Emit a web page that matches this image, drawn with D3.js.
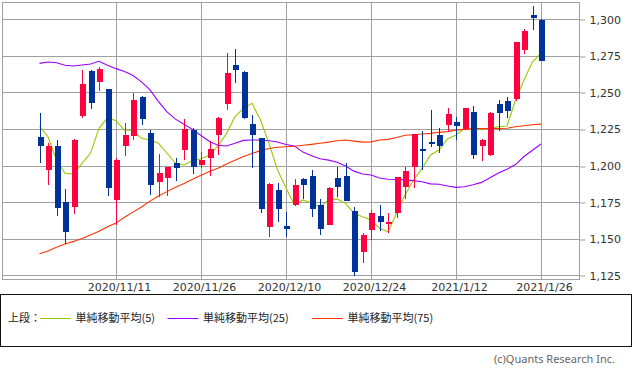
<!DOCTYPE html>
<html>
<head>
<meta charset="utf-8">
<script src="https://cdn.jsdelivr.net/npm/d3@7"></script>
<style>
  body { margin: 0; background: #fff; }
  svg { display: block; }
</style>
</head>
<body>
<svg id="chart" width="633" height="372"></svg>
<script>
// daily candles, 2020/10/28 - 2021/1/26
const dates = [
  "2020/10/28","2020/10/29","2020/10/30","2020/11/2","2020/11/4","2020/11/5","2020/11/6","2020/11/9","2020/11/10","2020/11/11",
  "2020/11/12","2020/11/13","2020/11/16","2020/11/17","2020/11/18","2020/11/19","2020/11/20","2020/11/24","2020/11/25","2020/11/26",
  "2020/11/27","2020/11/30","2020/12/1","2020/12/2","2020/12/3","2020/12/4","2020/12/7","2020/12/8","2020/12/9","2020/12/10",
  "2020/12/11","2020/12/14","2020/12/15","2020/12/16","2020/12/17","2020/12/18","2020/12/21","2020/12/22","2020/12/23","2020/12/24",
  "2020/12/25","2020/12/28","2020/12/29","2020/12/30","2021/1/4","2021/1/5","2021/1/6","2021/1/7","2021/1/8","2021/1/12",
  "2021/1/13","2021/1/14","2021/1/15","2021/1/18","2021/1/19","2021/1/20","2021/1/21","2021/1/22","2021/1/25","2021/1/26"
];
const openPrice = [
  1220, 1197, 1213.6, 1175.3, 1172, 1234, 1264.6, 1257.3, 1252.3, 1176.7,
  1213.6, 1220.4, 1247.3, 1222.2, 1189.4, 1191.7, 1202.2, 1210.8, 1224.9, 1201,
  1205.6, 1221.5, 1242.5, 1268.7, 1264.1, 1228.4, 1218.8, 1158.2, 1183.9, 1159.3,
  1173.7, 1191.1, 1193.1, 1173.3, 1159.9, 1191.5, 1193.1, 1169.2, 1141.4, 1156.2,
  1165.8, 1160.5, 1167.6, 1185.8, 1199.5, 1211.6, 1216.6, 1221.1, 1228, 1230,
  1225.5, 1236.9, 1213.4, 1207.3, 1242.6, 1244.2, 1246, 1279, 1303, 1299.5
];
const highPrice = [
  1236, 1216, 1217.7, 1184, 1218.6, 1265.5, 1265.5, 1267.8, 1252.3, 1205.5,
  1229.5, 1250, 1247.5, 1224.5, 1208.5, 1199, 1205.8, 1232.2, 1226, 1209.5,
  1217, 1233.6, 1276.9, 1279.6, 1264.8, 1234.5, 1219, 1188.6, 1188.5, 1168.5,
  1190.8, 1191.5, 1197.2, 1177.2, 1185.4, 1199, 1202.2, 1172.2, 1153.9, 1169.9,
  1173.3, 1167.6, 1192.5, 1199.5, 1222, 1224.1, 1238.2, 1225.7, 1239.4, 1233.2,
  1239.5, 1241.2, 1218.5, 1237.1, 1244.9, 1247.2, 1284.6, 1293.8, 1309.6, 1300.5
];
const lowPrice = [
  1202, 1187, 1165.7, 1147, 1167.5, 1233, 1238.6, 1251, 1179.4, 1160,
  1206.7, 1218, 1227.7, 1180.5, 1179, 1179.4, 1189.6, 1204, 1194.2, 1198.7,
  1193, 1207.2, 1238.2, 1256.8, 1231.8, 1198.5, 1167.8, 1151.4, 1161.6, 1151.6,
  1172.6, 1177.2, 1165.3, 1152.8, 1159.4, 1179, 1176, 1125, 1133.9, 1149.4,
  1155.8, 1153.9, 1164.2, 1177.8, 1184.7, 1197.2, 1212.7, 1208.6, 1223.4, 1217.7,
  1224.5, 1204.8, 1203.2, 1207, 1223.7, 1232.8, 1244.2, 1276.8, 1292.7, 1272
];
const closePrice = [
  1214, 1213.5, 1171, 1155.2, 1217.7, 1255.7, 1243.2, 1266, 1185, 1204.4,
  1221.3, 1245.4, 1231.8, 1186.7, 1194.9, 1199, 1198.5, 1225.4, 1199.2, 1204.4,
  1211.3, 1232.5, 1263.2, 1265.5, 1232.5, 1221.5, 1170.3, 1187.4, 1170.3, 1156.9,
  1186.7, 1187, 1170.8, 1157.1, 1184.9, 1185.4, 1176.3, 1127.7, 1152.8, 1167.6,
  1162, 1161.5, 1192.2, 1196.8, 1221.8, 1210.2, 1214.7, 1213.8, 1235.5, 1227.3,
  1239.3, 1207.3, 1218, 1236.2, 1236.2, 1237.4, 1284.5, 1292.3, 1301.1, 1272
];
// moving averages
const ma5 = [
  1227.3, 1220, 1204.1, 1195, 1194.5, 1201.8, 1208.7, 1225.7, 1233, 1231,
  1224.3, 1224.1, 1218.9, 1217.8, 1215.5, 1208.7, 1201.8, 1200.7, 1203.6, 1205,
  1207.5, 1213.7, 1222.3, 1233.7, 1239.4, 1242.8, 1231.4, 1215.5, 1197.3, 1185,
  1173.4, 1176.8, 1174.5, 1172.2, 1176.8, 1177.5, 1174.5, 1167.7, 1165.4, 1163.1,
  1157.4, 1155.1, 1167.7, 1180.2, 1190.4, 1198.4, 1207.5, 1210.9, 1218.5, 1221.2,
  1225.7, 1224.6, 1225.1, 1225.7, 1226.8, 1227.3, 1245.1, 1258.7, 1271.2, 1277
];
const ma25 = [
  1270.1, 1271, 1270.5, 1268.8, 1268.3, 1269, 1269.7, 1271.5, 1268.8, 1266.5,
  1264.5, 1261.8, 1257.5, 1252, 1244, 1237, 1232, 1228.5, 1225, 1220.8,
  1216.8, 1214.2, 1213.7, 1215.5, 1217.5, 1217.8, 1217.8, 1217.3, 1216.4, 1214.7,
  1213.7, 1209.5, 1207, 1205, 1204, 1202.5, 1200, 1196.5, 1194.5, 1193.8,
  1191.8, 1191, 1190.8, 1190.5, 1190, 1189.2, 1187.8, 1187.5, 1186.3, 1185.4,
  1185.8, 1187.2, 1188.8, 1192, 1195.2, 1197.8, 1201, 1206.5, 1210.8, 1215
];
const ma75 = [
  1140, 1142, 1144.5, 1146.7, 1148.5, 1150.5, 1152.9, 1155.5, 1158.5, 1161,
  1165, 1168.5, 1172, 1176, 1179.5, 1182.5, 1185.5, 1188, 1191, 1193.7,
  1196.3, 1198.5, 1201.3, 1204, 1206.5, 1208.5, 1210.5, 1212, 1212.8, 1213.2,
  1213.5, 1214.2, 1214.8, 1215.5, 1216.3, 1217.2, 1217.8, 1217, 1216.3, 1216.5,
  1217.8, 1218.2, 1219.5, 1221, 1221.3, 1221.9, 1222.3, 1223, 1223.5, 1224.5,
  1225, 1225.5, 1225.5, 1225.5, 1225.6, 1225.8, 1226.8, 1227.5, 1228.2, 1228.6
];
const yTicks = [1125, 1150, 1175, 1200, 1225, 1250, 1275, 1300];
const xTicks = ["2020/11/11", "2020/11/26", "2020/12/10", "2020/12/24", "2021/1/12", "2021/1/26"];
const legendNames = ["単純移動平均(5)", "単純移動平均(25)", "単純移動平均(75)"];
const legendColors = ["#99cc00", "#9900ff", "#ff3300"];

const svg = d3.select("#chart");
const plotLeft = 2.5, plotRight = 579.5, plotTop = 2.5, plotBottom = 279.5;

const x = d3.scalePoint().domain(dates).range([39.5, 541]);
const y = d3.scaleLinear().domain([1125, 1300]).range([275.8, 19.6]);
const px = d => Math.round(x(d));
const py = v => Math.floor(y(v)) + 0.5;

const candles = dates.map((d, i) => ({
    date: d, o: openPrice[i], h: highPrice[i], l: lowPrice[i], c: closePrice[i]
}));

// grid
const grid = svg.append("g").attr("stroke", "#a0a0a0").attr("shape-rendering", "crispEdges");
grid.selectAll(".h").data(yTicks).join("line")
    .attr("x1", plotLeft).attr("x2", plotRight)
    .attr("y1", py).attr("y2", py);
grid.selectAll(".v").data(xTicks).join("line")
    .attr("x1", d => px(d) + 0.5).attr("x2", d => px(d) + 0.5)
    .attr("y1", plotTop).attr("y2", plotBottom);
svg.append("rect")
    .attr("x", plotLeft).attr("y", plotTop)
    .attr("width", plotRight - plotLeft).attr("height", plotBottom - plotTop)
    .attr("fill", "none").attr("stroke", "#a0a0a0")
    .attr("shape-rendering", "crispEdges");

// moving average lines
[ma5, ma25, ma75].forEach((ma, k) => {
    const line = d3.line().x((v, i) => x(dates[i])).y(v => y(v));
    svg.append("path")
        .attr("d", line(ma))
        .attr("fill", "none")
        .attr("stroke", legendColors[k])
        .attr("stroke-width", 1.1);
});

// candlesticks
const upColor = "#ff0040", downColor = "#003399";
const cg = svg.append("g").attr("shape-rendering", "crispEdges");
cg.selectAll("line").data(candles).join("line")
    .attr("x1", d => px(d.date) + 0.5).attr("x2", d => px(d.date) + 0.5)
    .attr("y1", d => y(d.h)).attr("y2", d => y(d.l))
    .attr("stroke", d => d.c >= d.o ? upColor : downColor);
cg.selectAll("rect").data(candles).join("rect")
    .attr("x", d => px(d.date) - 2.5)
    .attr("width", 6)
    .attr("y", d => y(Math.max(d.o, d.c)))
    .attr("height", d => Math.max(1.5, Math.abs(y(d.o) - y(d.c))))
    .attr("fill", d => d.c >= d.o ? upColor : downColor);

// y axis on the right
const yAxis = svg.append("g")
    .attr("transform", `translate(${plotRight},0)`)
    .call(d3.axisRight(y).tickValues(yTicks).tickSize(6).tickPadding(4).tickFormat(d3.format(",")));
yAxis.select(".domain").remove();
yAxis.selectAll(".tick line").attr("stroke", "#a0a0a0").attr("transform", d => `translate(0,${py(d) - y(d)})`);
yAxis.selectAll(".tick text")
    .attr("fill", "#333")
    .style("font", "11px 'DejaVu Sans', sans-serif");

// date labels
const xAxis = svg.append("g")
    .attr("transform", `translate(0,${plotBottom})`)
    .call(d3.axisBottom(x).tickValues(xTicks).tickSize(0).tickPadding(4));
xAxis.select(".domain").remove();
xAxis.selectAll(".tick text")
    .attr("dx", 3)
    .attr("fill", "#333")
    .style("font", "11px 'DejaVu Sans', sans-serif");

// legend box
const lg = svg.append("g");
lg.append("rect")
    .attr("x", 0.5).attr("y", 294.5).attr("width", 631).attr("height", 52)
    .attr("fill", "#fff").attr("stroke", "#111");
const ly = 318.5;
lg.append("text")
    .attr("x", 8).attr("y", ly).attr("dy", "0.35em")
    .attr("fill", "#222")
    .style("font", "11px 'Noto Sans CJK JP', sans-serif")
    .text("上段：");
const itemX = [40, 167.5, 312];
legendNames.forEach((name, k) => {
    lg.append("line")
        .attr("x1", itemX[k]).attr("x2", itemX[k] + 31)
        .attr("y1", ly).attr("y2", ly)
        .attr("stroke", legendColors[k]).attr("stroke-width", 1);
    lg.append("text")
        .attr("x", itemX[k] + 35.5).attr("y", ly).attr("dy", "0.35em")
        .attr("fill", "#222")
        .style("font", "11px 'Noto Sans CJK JP', sans-serif")
        .text(name);
});

svg.append("text")
    .attr("x", 615).attr("y", 358.7).attr("dy", "0.35em")
    .attr("text-anchor", "end")
    .attr("fill", "#666")
    .style("font", "11px 'Noto Sans', sans-serif")
    .text("(c)Quants Research Inc.");
</script>
</body>
</html>
